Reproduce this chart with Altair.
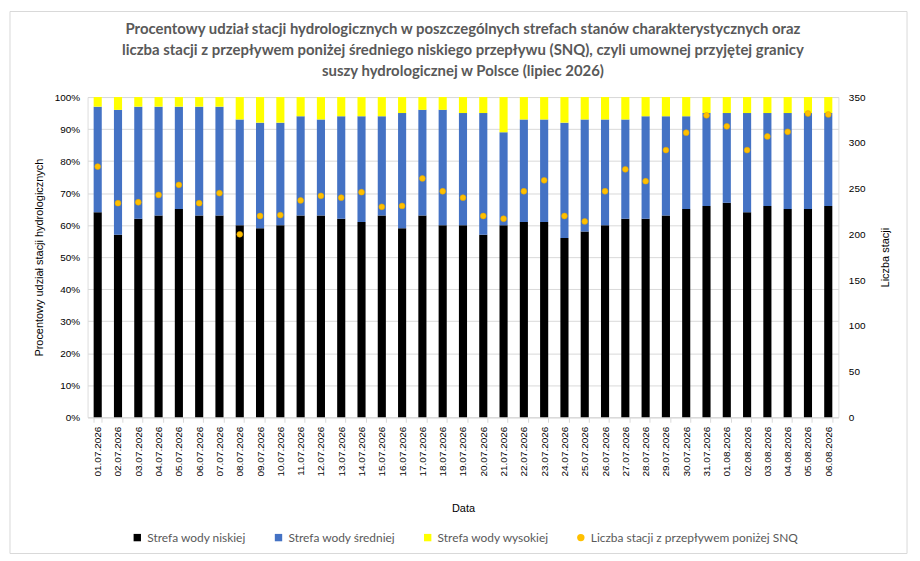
import altair as alt
import pandas as pd

dates = ["01.07.2026","02.07.2026","03.07.2026","04.07.2026","05.07.2026","06.07.2026","07.07.2026",
         "08.07.2026","09.07.2026","10.07.2026","11.07.2026","12.07.2026","13.07.2026","14.07.2026",
         "15.07.2026","16.07.2026","17.07.2026","18.07.2026","19.07.2026","20.07.2026","21.07.2026",
         "22.07.2026","23.07.2026","24.07.2026","25.07.2026","26.07.2026","27.07.2026","28.07.2026",
         "29.07.2026","30.07.2026","31.07.2026","01.08.2026","02.08.2026","03.08.2026","04.08.2026",
         "05.08.2026","06.08.2026"]
low_pct = [64,57,62,63,65,63,63,60,59,60,63,63,62,61,63,59,63,60,60,57,60,61,61,56,58,60,62,62,63,65,66,67,64,66,65,65,66]
mid_pct = [33,39,35,34,32,34,34,33,33,32,31,30,32,33,31,36,33,36,35,38,29,32,32,36,35,33,31,32,31,29,29,28,31,29,30,30,29]
high_pct = [3,4,3,3,3,3,3,7,8,8,6,7,6,6,6,5,4,4,5,5,11,7,7,8,7,7,7,6,6,6,5,5,5,5,5,5,5]
snq_count = [274,234,235,243,254,234,245,200,220,221,237,242,240,246,230,231,261,247,240,220,217,247,259,220,214,247,271,258,292,311,330,318,292,307,312,332,331]

series_names = ["Strefa wody niskiej", "Strefa wody średniej", "Strefa wody wysokiej",
                "Liczba stacji z przepływem poniżej SNQ"]
series_colors = ["#000000", "#4472C4", "#FFFF00", "#FFC000"]
series_shapes = ["square", "square", "square", "circle"]

rows = []
for i, d in enumerate(dates):
    rows.append({"date": d, "zone": series_names[0], "order": 0, "pct": low_pct[i]})
    rows.append({"date": d, "zone": series_names[1], "order": 1, "pct": mid_pct[i]})
    rows.append({"date": d, "zone": series_names[2], "order": 2, "pct": high_pct[i]})
bars_df = pd.DataFrame(rows)
pts_df = pd.DataFrame({"date": dates, "count": snq_count, "series": series_names[3]})

FONT = "Lato"
TXT = "#595959"

x_enc = alt.X("date:N", sort=dates,
              scale=alt.Scale(paddingInner=0.6, paddingOuter=0.3),
              axis=alt.Axis(labelAngle=-90, tickBand="extent", tickColor="#D9D9D9",
                            domainColor="#D9D9D9", tickSize=5, labelPadding=4,
                            title="Data", titlePadding=27, titleFontWeight="normal",
                            grid=False))

color_scale = alt.Scale(domain=series_names, range=series_colors)

bars = alt.Chart(bars_df).mark_bar().encode(
    x=x_enc,
    y=alt.Y("pct:Q", stack="zero",
            scale=alt.Scale(domain=[0, 100]),
            axis=alt.Axis(orient="left", values=list(range(0, 101, 10)),
                          labelExpr="datum.value + '%'",
                          title="Procentowy udział stacji hydrologicznych",
                          titleFontWeight="normal",
                          domain=False, ticks=False, gridColor="#D9D9D9",
                          labelPadding=8, titlePadding=10)),
    color=alt.Color("zone:N", scale=color_scale,
                    legend=alt.Legend(title=None, orient="none", direction="horizontal",
                                      legendX=44, legendY=437,
                                      columnPadding=26, symbolSize=55, labelFontSize=12,
                                      labelFont=FONT, labelColor=TXT,
                                      labelLimit=400, labelOffset=4,
                                      symbolStrokeWidth=0)),
    order=alt.Order("order:Q"),
)

pts = alt.Chart(pts_df).mark_point(filled=True, size=34, opacity=1, stroke="#E8A800",
                                   strokeWidth=0.6).encode(
    x=alt.X("date:N", sort=dates),
    y=alt.Y("count:Q", scale=alt.Scale(domain=[0, 350]),
            axis=alt.Axis(orient="right", values=list(range(0, 351, 50)),
                          title="Liczba stacji", titleFontWeight="normal", titleAngle=270,
                          grid=False, domain=False, ticks=False,
                          labelPadding=10, titlePadding=26)),
    color=alt.Color("series:N", scale=color_scale, legend=None),
    shape=alt.Shape("series:N", scale=alt.Scale(domain=series_names, range=series_shapes),
                    legend=None),
)

frame = alt.Chart(pd.DataFrame({"k": [0]})).mark_rect(
    fill="transparent", stroke="#D9D9D9", strokeWidth=1).encode(
    x=alt.value(-78), x2=alt.value(824), y=alt.value(-86), y2=alt.value(459))

chart = alt.layer(bars, pts, frame).resolve_scale(y="independent").properties(
    width=755, height=322,
    autosize=alt.AutoSizeParams(type="none"),
    padding={"left": 80, "top": 88, "right": 74, "bottom": 142},
    title=alt.TitleParams(
        text=["Procentowy udział stacji hydrologicznych w poszczególnych strefach stanów charakterystycznych oraz",
              "liczba stacji z przepływem poniżej średniego niskiego przepływu (SNQ), czyli umownej przyjętej granicy",
              "suszy hydrologicznej w Polsce (lipiec 2026)"],
        fontSize=15, font=FONT, fontWeight="bold", color=TXT, lineHeight=21, offset=-68,
        anchor="middle"),
).configure_view(stroke=None).configure_axis(
    labelFont=FONT, labelFontSize=12, labelColor=TXT, titleFont=FONT, titleFontSize=12,
    titleColor=TXT, titleFontWeight="normal"
).configure(background="white")

chart.save("out.html", embed_options={"renderer": "svg", "actions": False})
